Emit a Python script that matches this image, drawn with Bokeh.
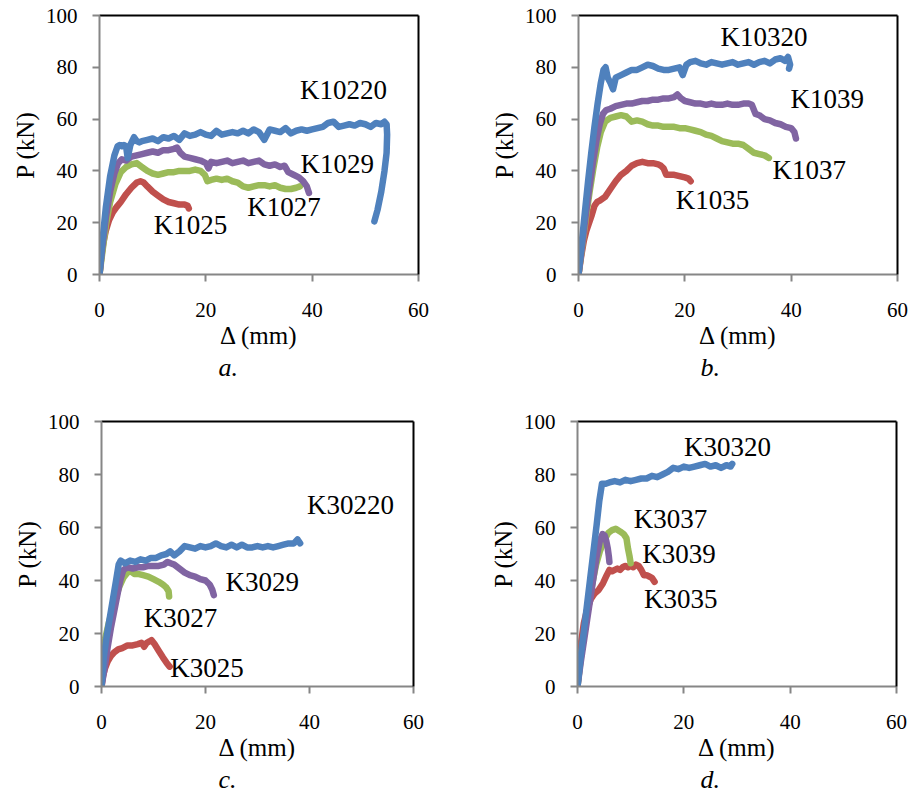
from bokeh.plotting import figure
from bokeh.models import Range1d, LinearAxis, FixedTicker, Label, Title
from bokeh.layouts import row, column
from bokeh.embed import file_html
from bokeh.resources import INLINE

# ---------------- data ----------------
a_K10220_x = [0, 0.5, 1.2, 2.0, 2.8, 3.4, 3.8, 4.2, 4.6, 5.0, 5.3, 5.8, 6.5, 7.0, 7.5, 8.0, 9, 10, 11, 12, 13, 14, 15, 16, 17, 18, 19, 20, 21, 22, 23, 24, 25, 26, 27, 28, 29, 30, 31, 32, 33, 34, 35, 36, 37, 38, 39, 40, 41, 42, 43, 44, 45, 46, 47, 48, 49, 50, 51, 52, 53, 53.6, 54.0, 54.1, 54.0, 53.6, 53.0, 52.3, 51.7]
a_K10220_y = [0, 12, 26, 38, 46, 49.5, 50, 49.5, 50, 49.5, 45, 50, 53, 51.5, 51, 51.5, 52, 52.5, 51.5, 53, 52.5, 53.5, 52, 54.5, 53.5, 54, 55, 54, 53.5, 55.5, 54, 54.5, 55, 54.5, 55.5, 54.5, 56, 55, 52, 56, 55.5, 55, 56.5, 54.5, 55.5, 56, 55.5, 56, 56.5, 57, 58.5, 59, 57, 57.5, 58, 57.5, 58.5, 58, 57, 58.5, 58, 59, 58, 54, 47, 40, 32, 25, 20.5]
a_K1029_x = [0, 0.5, 1.2, 2.0, 2.8, 3.5, 4.2, 5, 6, 7, 8, 9, 10, 11, 12, 13, 14, 14.6, 15.2, 16, 17, 18, 19, 20, 20.5, 21, 22, 23, 24, 25, 26, 27, 28, 29, 30, 31, 32, 33, 34, 34.8, 35.5, 36.5, 37.5, 38.3, 39, 39.4]
a_K1029_y = [0, 10, 22, 32, 39, 43, 44.5, 44, 45.5, 46, 46.5, 47, 47.5, 47, 48, 48, 48.5, 49, 47, 45.5, 45, 44.5, 44, 43, 41, 43.5, 43, 43.5, 44, 43, 43.5, 44, 43, 43.5, 44, 42.5, 42, 42.5, 41.5, 42, 39.5, 38.5, 37.5, 36, 34, 31.5]
a_K1027_x = [0, 0.5, 1.2, 2, 3, 4, 5, 6, 7, 8, 9, 10, 11, 12, 13, 14, 15, 16, 17, 18, 19, 19.8, 20.3, 21, 22, 23, 24, 25, 26, 27, 28, 29, 30, 31, 32, 33, 34, 35, 36, 37, 37.7]
a_K1027_y = [0, 8, 19, 28, 35, 39.5, 41.5, 42.5, 43, 41.5, 40, 39, 38.5, 39, 39.5, 39.5, 40, 40, 40, 40.5, 40, 38.5, 36, 36.5, 37, 36.5, 37, 36, 35.5, 34, 33.5, 34, 34.5, 34.5, 34, 34.5, 33.5, 33, 33, 33.5, 34]
a_K1025_x = [0, 0.3, 0.7, 1.2, 1.8, 2.5, 3.2, 4, 5, 6, 7, 7.7, 8.3, 9, 10, 11, 12, 13, 14, 15, 16, 16.6, 16.8]
a_K1025_y = [0, 6, 12, 17, 21, 24, 26, 28, 31, 33.5, 35.5, 36, 35.5, 34, 32, 30.5, 29, 28, 27.5, 27, 27, 26.5, 25.5]

b_K10320_x = [0, 0.6, 1.2, 1.8, 2.4, 3.0, 3.6, 4.2, 4.7, 5.1, 5.5, 6.0, 6.5, 7.0, 7.5, 8, 9, 10, 11, 12, 13, 14, 15, 16, 17, 18, 19, 19.6, 20.3, 21, 22, 23, 24, 25, 26, 27, 28, 29, 30, 31, 32, 33, 34, 35, 36, 37, 38, 38.8, 39.4, 39.8, 39.6]
b_K10320_y = [0, 12, 24, 36, 47, 57, 66, 74, 79, 80, 76, 74, 71.5, 76, 76.5, 77, 78, 79, 79, 80, 81, 80.5, 79.5, 79, 79, 79.5, 80, 77, 81, 82, 82.5, 81.5, 81, 82, 81.5, 81, 81.5, 82, 81, 81.5, 82, 81, 82, 82.5, 81.5, 83, 83.5, 82.5, 84, 81, 79.5]
b_K1039_x = [0, 0.6, 1.3, 2, 2.7, 3.4, 4.0, 4.6, 5.2, 6, 7, 8, 9, 10, 11, 12, 13, 14, 15, 16, 17, 18, 18.6, 19.3, 20, 21, 22, 23, 24, 25, 26, 27, 28, 29, 30, 31, 32, 32.6, 33.3, 34, 35, 36, 37, 38, 39, 40, 40.6, 40.9]
b_K1039_y = [0, 10, 22, 33, 43, 52, 58, 62, 63.5, 64, 65, 65.5, 66, 66, 66.5, 67, 67, 67.5, 67.5, 68, 68, 68.5, 69.5, 68, 67, 66.5, 66, 66, 65.5, 66, 65.5, 65.5, 66, 65.5, 65.5, 66, 66, 65.5, 62, 61.5, 60, 59.5, 58.5, 58, 57, 56.5, 55, 52.5]
b_K1037_x = [0, 0.7, 1.4, 2.1, 2.8, 3.5, 4.2, 5, 6, 7, 8, 9, 10, 11, 12, 13, 14, 15, 16, 17, 18, 19, 20, 21, 22, 23, 24, 25, 26, 27, 28, 29, 30, 31, 32, 33, 34, 35, 35.8]
b_K1037_y = [0, 11, 22, 32, 41, 49, 55, 59, 60.5, 61, 61.5, 61, 59, 59.5, 59, 58, 57.5, 57.5, 57, 57, 57, 56.5, 56.5, 56, 55.5, 55, 54, 53.5, 52.5, 51.5, 51, 50.5, 50.5, 50, 48.5, 47, 46.5, 46, 45]
b_K1035_x = [0, 0.5, 1, 1.5, 2, 2.5, 3, 3.5, 4, 5, 6, 7, 8, 9, 10, 11, 12, 13, 14, 15, 15.5, 16, 16.5, 17, 18, 19, 20, 20.7, 21.1]
b_K1035_y = [0, 7, 13, 17, 20, 23, 26.5, 28, 28.5, 30, 33, 36, 38.5, 40, 42, 43, 43.5, 43, 43, 42.5, 42, 41, 38.5, 38.5, 38.5, 38, 37.5, 37, 36]

c_K30220_x = [0, 0.5, 1.0, 1.6, 2.2, 2.8, 3.3, 3.7, 4.5, 5.5, 6.5, 7.5, 8.5, 9.5, 10.5, 11.5, 12.5, 13.2, 14, 15, 16, 17, 18, 19, 20, 21, 22, 23, 24, 25, 26, 27, 28, 29, 30, 31, 32, 33, 34, 35, 36, 37, 37.7, 38.2]
c_K30220_y = [0, 12, 19, 26, 33, 40, 46, 47.5, 46.5, 47.5, 47, 48, 47.5, 48.5, 48.5, 49.5, 50, 51, 49.5, 51, 53, 52.5, 52, 53, 52.5, 53, 54, 53, 52.5, 53.5, 52.5, 53.5, 52.5, 52.5, 53, 52.5, 53, 52.5, 53, 53.5, 54, 54, 55.5, 54]
c_K3029_x = [0, 0.6, 1.2, 1.8, 2.4, 3.0, 3.6, 4.2, 5, 6, 7, 8, 9, 10, 11, 12, 12.7, 13.3, 14, 15, 16, 17, 18, 19, 20, 20.8, 21.3, 21.6]
c_K3029_y = [0, 7, 15, 22, 28, 34, 40, 44, 45, 44.5, 45, 45, 45.5, 45.5, 45.5, 46, 47, 46.5, 46, 44.5, 43, 42, 41.5, 40.5, 40, 38.5, 36.5, 34.5]
c_K3027_x = [0, 0.1, 0.7, 1.4, 2.1, 2.8, 3.5, 4.2, 5, 5.6, 6.3, 7, 8, 9, 10, 11, 11.8, 12.4, 12.9, 13.0]
c_K3027_y = [0, 14, 18, 24, 29, 34, 38, 41, 43, 43.5, 42.5, 42.5, 42, 41.5, 40.5, 39.5, 38.5, 37.5, 36, 34]
c_K3025_x = [0, 0.3, 0.7, 1.2, 1.8, 2.5, 3.2, 4, 5, 6, 7, 7.7, 8.2, 8.7, 9.2, 9.6, 10.2, 11, 11.8, 12.5, 13.1]
c_K3025_y = [0, 4, 7, 9.5, 11.5, 13, 14, 14.5, 15.5, 15.5, 16, 16.5, 15, 16.5, 17, 17.5, 16, 13.5, 11, 9, 7.5]

d_K30320_x = [0, 0.6, 1.2, 1.8, 2.4, 3.0, 3.6, 4.1, 4.6, 5.3, 6, 7, 8, 9, 10, 11, 12, 13, 14, 15, 16, 17, 18, 19, 20, 21, 22, 23, 24, 25, 26, 27, 28, 28.8, 29.1]
d_K30320_y = [0, 11, 21, 31, 41, 51, 61, 70, 76.5, 76.5, 77, 77.5, 77, 78, 77.5, 78, 78.5, 78.5, 79.5, 79, 80, 81, 82.5, 82, 83, 82.5, 83, 83.5, 84, 83, 83.5, 82.5, 83.5, 83, 84]
d_K3039_x = [0, 0.6, 1.2, 1.8, 2.4, 3.0, 3.6, 4.2, 4.7, 5.1, 5.4, 5.7, 5.9, 6.0]
d_K3039_y = [0, 9, 17, 25, 33, 41, 49, 55, 57.5, 57, 55, 52, 49, 47]
d_K3037_x = [0, 0.7, 1.4, 2.1, 2.8, 3.5, 4.2, 5, 5.8, 6.5, 7.2, 8, 8.7, 9.2, 9.5, 9.8, 10.0]
d_K3037_y = [0, 12, 22, 31, 39, 46, 51, 55, 58, 59, 59.5, 58.5, 57.5, 56, 52, 49, 46.5]
d_K3035_x = [0, 0.3, 0.7, 1.2, 1.8, 2.5, 3.2, 4, 4.8, 5.5, 6, 6.5, 7, 7.5, 8, 8.5, 9, 9.5, 10, 10.5, 11, 11.5, 12, 12.5, 13, 13.5, 14, 14.5]
d_K3035_y = [0, 10, 17, 24, 29, 33, 35, 36.5, 39, 42, 44, 43.5, 44, 44.5, 44, 45, 45.5, 45, 45.5, 45, 46, 45.5, 44, 42, 42, 41.5, 41, 39.5]

x_ticks = [0, 20, 40, 60]
y_ticks = [0, 20, 40, 60, 80, 100]

BLUE, RED, GREEN, PURPLE = "#4F81BD", "#C0504D", "#9BBB59", "#8064A2"
FONT = "'Liberation Serif', 'Times New Roman', serif"
GRAY = "#868686"


def make_panel(series, labels, caption, cap_offset, mb):
    left, right, top, bottom = mb
    p = figure(width=457, height=400, output_backend="svg", toolbar_location=None,
               x_range=Range1d(0, 60), y_range=Range1d(0, 100),
               min_border_left=left, min_border_right=right,
               min_border_top=top, min_border_bottom=bottom)
    p.outline_line_color = None
    p.grid.visible = False
    p.background_fill_color = "white"
    p.border_fill_color = "white"
    p.xaxis.ticker = FixedTicker(ticks=x_ticks)
    p.yaxis.ticker = FixedTicker(ticks=y_ticks)
    for ax in (p.xaxis[0], p.yaxis[0]):
        ax.axis_line_color = GRAY
        ax.axis_line_width = 2
        ax.major_tick_line_color = GRAY
        ax.major_tick_line_width = 2
        ax.major_tick_out = 7
        ax.major_tick_in = 0
        ax.minor_tick_line_color = None
        ax.major_label_text_font = FONT
        ax.major_label_text_font_size = "21px"
        ax.major_label_text_color = "black"
    p.xaxis.major_label_standoff = 21
    p.yaxis.major_label_standoff = 15

    for side in ("above", "right"):
        ax = LinearAxis(ticker=FixedTicker(ticks=[]), axis_line_color="black",
                        axis_line_width=2, major_tick_line_color=None,
                        minor_tick_line_color=None)
        p.add_layout(ax, side)

    for xs, ys, color in series:
        p.line(xs, ys, line_color=color, line_width=6.5,
               line_join="round", line_cap="round")

    for txt, lx, ly in labels:
        p.add_layout(Label(x=lx, y=ly, text=txt, text_font=FONT, text_font_size="27px",
                           text_align="center", text_baseline="middle", text_color="black"))

    # axis titles and panel caption
    p.add_layout(Title(text="Δ (mm)", text_font=FONT, text_font_size="25px",
                       text_font_style="normal", text_color="black",
                       align="center", standoff=0), "below")
    p.add_layout(Title(text="P (kN)", text_font=FONT, text_font_size="25px",
                       text_font_style="normal", text_color="black",
                       align="center", standoff=8), "left")
    p.add_layout(Title(text=caption, text_font=FONT, text_font_size="26px",
                       text_font_style="italic", text_color="black",
                       align="left", offset=cap_offset, standoff=4), "below")
    return p


pa = make_panel(
    [(a_K1025_x, a_K1025_y, RED), (a_K1027_x, a_K1027_y, GREEN),
     (a_K1029_x, a_K1029_y, PURPLE), (a_K10220_x, a_K10220_y, BLUE)],
    [("K10220", 45.9, 71.4), ("K1029", 44.7, 42.7), ("K1027", 34.7, 26.2), ("K1025", 17.1, 19.2)],
    "a.", 119, (99, 39, 15, 126))

pb = make_panel(
    [(b_K1035_x, b_K1035_y, RED), (b_K1037_x, b_K1037_y, GREEN),
     (b_K1039_x, b_K1039_y, PURPLE), (b_K10320_x, b_K10320_y, BLUE)],
    [("K10320", 34.9, 91.7), ("K1039", 46.8, 67.6), ("K1037", 43.4, 40.2), ("K1035", 25.2, 28.7)],
    "b.", 122, (121, 17, 15, 126))

pc = make_panel(
    [(c_K3025_x, c_K3025_y, RED), (c_K3027_x, c_K3027_y, GREEN),
     (c_K3029_x, c_K3029_y, PURPLE), (c_K30220_x, c_K30220_y, BLUE)],
    [("K30220", 47.9, 68.4), ("K3029", 30.9, 39.6), ("K3027", 15.2, 25.8), ("K3025", 20.3, 7.0)],
    "c.", 117, (101, 44, 21, 113))

pd_ = make_panel(
    [(d_K3035_x, d_K3035_y, RED), (d_K3037_x, d_K3037_y, GREEN),
     (d_K3039_x, d_K3039_y, PURPLE), (d_K30320_x, d_K30320_y, BLUE)],
    [("K30320", 28.2, 90.3), ("K3037", 17.5, 63.3), ("K3039", 19.1, 50.1), ("K3035", 19.4, 33.1)],
    "d.", 123, (120, 18, 21, 114))

layout = column(row(pa, pb), row(pc, pd_))
open("out.html", "w").write(file_html(layout, INLINE))
